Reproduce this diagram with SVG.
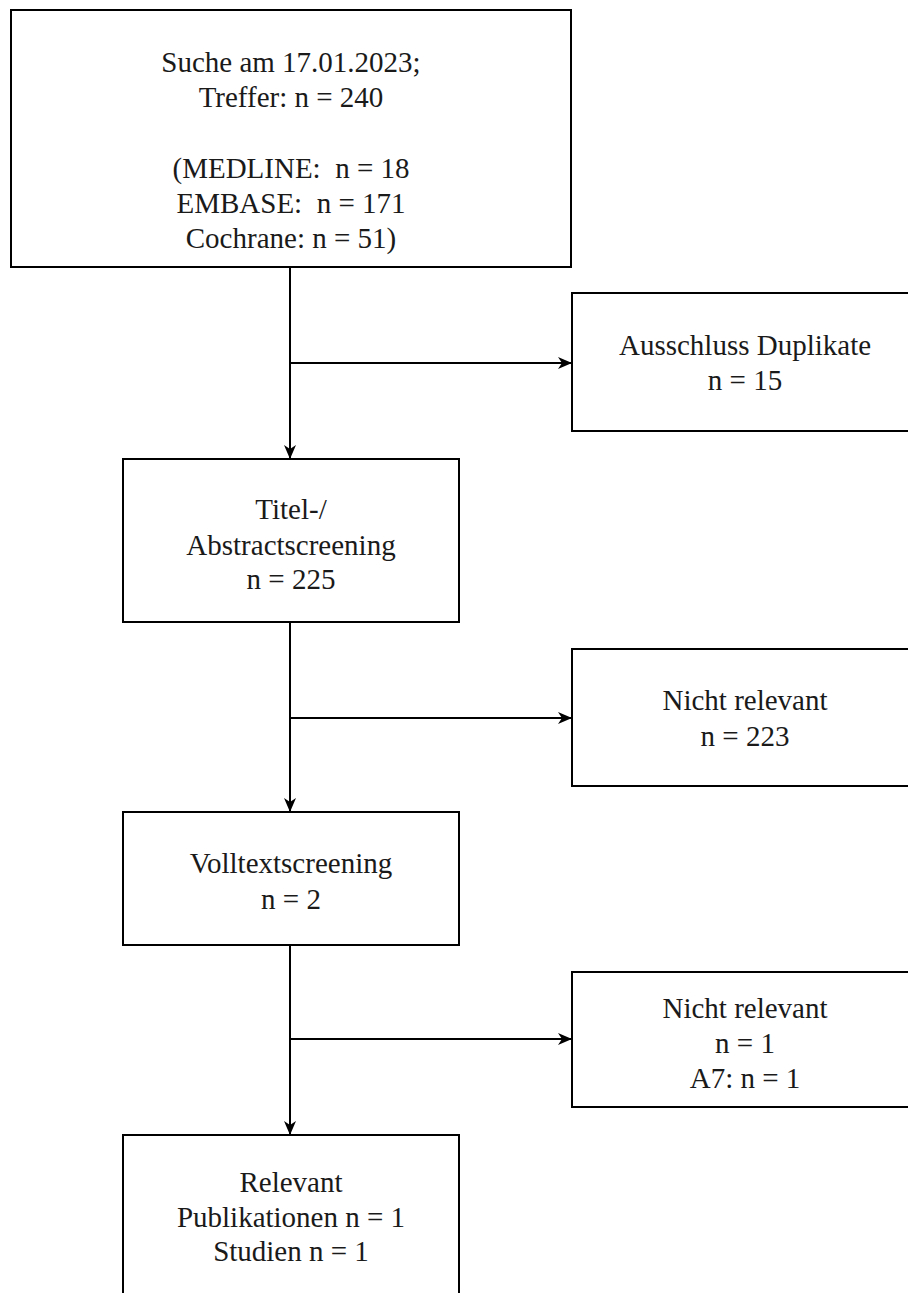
<svg xmlns="http://www.w3.org/2000/svg" width="908" height="1293" viewBox="0 0 908 1293">
  <style>
    .box { fill: #ffffff; stroke: #000000; stroke-width: 2; }
    .lbl { font-family: "Liberation Serif", "Times New Roman", serif; font-size: 29px; fill: #1a1a1a; text-anchor: middle; white-space: pre; }
    .conn { fill: none; stroke: #000000; stroke-width: 2; }
  </style>
  <defs>
    <marker id="arr" viewBox="0 0 14 14" refX="13" refY="7" markerWidth="14" markerHeight="14" markerUnits="userSpaceOnUse" orient="auto">
      <path d="M0,1 L14,7 L0,13 L4,7 Z" fill="#000000"/>
    </marker>
  </defs>
  <rect width="908" height="1293" fill="#ffffff"/>

  <g id="connectors">
    <path class="conn" d="M290,267 L290,458" marker-end="url(#arr)"/>
    <path class="conn" d="M290,363 L571,363" marker-end="url(#arr)"/>
    <path class="conn" d="M290,622 L290,811" marker-end="url(#arr)"/>
    <path class="conn" d="M290,718 L571,718" marker-end="url(#arr)"/>
    <path class="conn" d="M290,945 L290,1134" marker-end="url(#arr)"/>
    <path class="conn" d="M290,1039 L571,1039" marker-end="url(#arr)"/>
  </g>

  <g id="search">
    <rect class="box" x="11" y="10" width="560" height="257"/>
    <text class="lbl" x="291" y="72">Suche am 17.01.2023;</text>
    <text class="lbl" x="291" y="107">Treffer: n = 240</text>
    <text class="lbl" x="291" y="178">(MEDLINE:  n = 18</text>
    <text class="lbl" x="291" y="213">EMBASE:  n = 171</text>
    <text class="lbl" x="291" y="248">Cochrane: n = 51)</text>
  </g>

  <g id="duplicates">
    <rect class="box" x="572" y="293" width="346" height="138"/>
    <text class="lbl" x="745" y="355">Ausschluss Duplikate</text>
    <text class="lbl" x="745" y="390">n = 15</text>
  </g>

  <g id="abstract-screening">
    <rect class="box" x="123" y="459" width="336" height="163"/>
    <text class="lbl" x="291" y="519">Titel-/</text>
    <text class="lbl" x="291" y="555">Abstractscreening</text>
    <text class="lbl" x="291" y="589">n = 225</text>
  </g>

  <g id="not-relevant-1">
    <rect class="box" x="572" y="649" width="346" height="137"/>
    <text class="lbl" x="745" y="710">Nicht relevant</text>
    <text class="lbl" x="745" y="746">n = 223</text>
  </g>

  <g id="fulltext-screening">
    <rect class="box" x="123" y="812" width="336" height="133"/>
    <text class="lbl" x="291" y="873">Volltextscreening</text>
    <text class="lbl" x="291" y="909">n = 2</text>
  </g>

  <g id="not-relevant-2">
    <rect class="box" x="572" y="972" width="346" height="135"/>
    <text class="lbl" x="745" y="1018">Nicht relevant</text>
    <text class="lbl" x="745" y="1053">n = 1</text>
    <text class="lbl" x="745" y="1088">A7: n = 1</text>
  </g>

  <g id="relevant">
    <rect class="box" x="123" y="1135" width="336" height="180"/>
    <text class="lbl" x="291" y="1192">Relevant</text>
    <text class="lbl" x="291" y="1227">Publikationen n = 1</text>
    <text class="lbl" x="291" y="1261">Studien n = 1</text>
  </g>
</svg>
